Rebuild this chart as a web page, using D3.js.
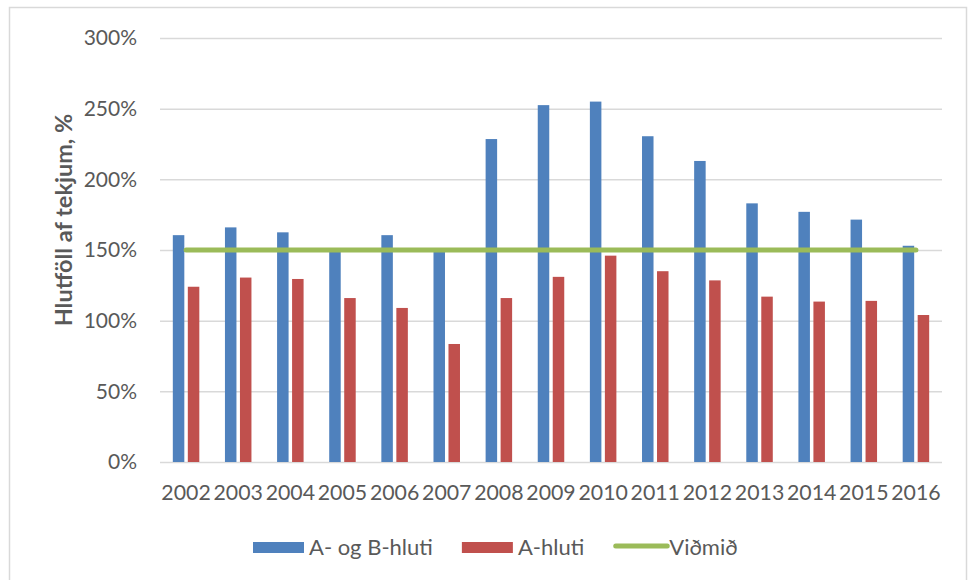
<!DOCTYPE html>
<html>
<head>
<meta charset="utf-8">
<script src="https://d3js.org/d3.v7.min.js"></script>
<style>
    body { margin: 0; background: #fff; }
    svg { display: block; font-family: Lato, "Open Sans", sans-serif; }
    .tick text { fill: #595959; }
</style>
</head>
<body>
<div class="chart"></div>
<script>
    // values (% of revenue)
    let years = ["2002","2003","2004","2005","2006","2007","2008","2009","2010","2011","2012","2013","2014","2015","2016"];
    let aogB = [160.5, 166, 162.5, 149, 160.5, 149, 228.5, 252.5, 255, 230.5, 213, 183, 177, 171.5, 153];
    let aHluti = [124, 130.5, 129.5, 116, 109, 83.5, 116, 131, 146, 135, 128.5, 117, 113.5, 114, 104];
    let vidmid = [150, 150, 150, 150, 150, 150, 150, 150, 150, 150, 150, 150, 150, 150, 150];
    let yTicks = [0, 50, 100, 150, 200, 250, 300];
    let seriesNames = ["A- og B-hluti", "A-hluti", "Viðmið"];
    let colors = ["#4f81bd", "#c0504d", "#9bbb59"];

    let width = 972, height = 580;
    let plot = {left: 160, right: 942, top: 38, bottom: 462};

    let svg = d3.select(".chart").append("svg")
        .attr("width", width)
        .attr("height", height);

    // outer frame
    svg.append("rect")
        .attr("x", 9.5).attr("y", 7.5)
        .attr("width", 957).attr("height", 600)
        .attr("fill", "none")
        .attr("stroke", "#d9d9d9")
        .attr("stroke-width", 1.5);

    let x = d3.scaleBand().domain(years).range([plot.left, plot.right]);
    let xSub = d3.scaleBand().domain([0, 1]).range([-13.25, 13.25]).paddingInner(0.233);
    let y = d3.scaleLinear().domain([0, 300]).range([plot.bottom, plot.top]);

    // gridlines
    svg.append("g")
        .attr("transform", `translate(${plot.left},0)`)
        .call(d3.axisLeft(y).tickValues(yTicks).tickSize(-(plot.right - plot.left)).tickFormat(""))
        .call(g => g.select(".domain").remove())
        .call(g => g.selectAll("line").attr("stroke", "#d9d9d9").attr("stroke-width", 1.5));

    // y labels
    svg.append("g")
        .attr("transform", `translate(${plot.left},0)`)
        .call(d3.axisLeft(y).tickValues(yTicks).tickSize(0).tickPadding(23).tickFormat(d => d + "%"))
        .call(g => g.select(".domain").remove())
        .call(g => g.selectAll("text").attr("font-size", 21).attr("font-family", "Lato"));

    // x labels
    svg.append("g")
        .attr("transform", `translate(0,${plot.bottom})`)
        .call(d3.axisBottom(x).tickSize(0).tickPadding(0))
        .call(g => g.select(".domain").remove())
        .call(g => g.selectAll("text").attr("font-size", 21.3).attr("font-family", "Lato")
            .attr("dy", null).attr("y", 38));

    let groups = svg.append("g").selectAll("g")
        .data(years)
        .join("g")
        .attr("transform", d => `translate(${x(d) + x.bandwidth() / 2},0)`);

    [aogB, aHluti].forEach((vals, si) => {
        groups.append("rect")
            .attr("x", xSub(si))
            .attr("width", xSub.bandwidth())
            .attr("y", (d, i) => y(vals[i]))
            .attr("height", (d, i) => y(0) - y(vals[i]))
            .attr("fill", colors[si]);
    });

    let line = d3.line()
        .x((d, i) => x(years[i]) + x.bandwidth() / 2)
        .y(d => y(d));

    svg.append("path")
        .datum(vidmid)
        .attr("d", line)
        .attr("fill", "none")
        .attr("stroke", colors[2])
        .attr("stroke-width", 5)
        .attr("stroke-linecap", "round");

    // y axis title
    svg.append("text")
        .attr("transform", "translate(72,220) rotate(-90)")
        .attr("text-anchor", "middle")
        .attr("font-size", 23.5)
        .attr("font-weight", "bold")
        .attr("fill", "#595959")
        .text("Hlutföll af tekjum, %");

    // legend
    let legend = svg.append("g").attr("transform", "translate(253,0)");
    let lx = 0;
    seriesNames.forEach((name, i) => {
        let item = legend.append("g").attr("transform", `translate(${lx},0)`);
        if (i < 2) {
            item.append("rect").attr("x", 0).attr("y", 542).attr("width", 51).attr("height", 11).attr("fill", colors[i]);
        } else {
            item.append("line").attr("x1", 2.5).attr("x2", 54).attr("y1", 546).attr("y2", 546)
                .attr("stroke", colors[i]).attr("stroke-width", 5).attr("stroke-linecap", "round");
        }
        let t = item.append("text")
            .attr("x", 56).attr("y", 555)
            .attr("font-size", 22)
            .attr("fill", "#595959")
            .text(name);
        lx += 56 + t.node().getComputedTextLength() + 29;
    });
</script>
</body>
</html>
